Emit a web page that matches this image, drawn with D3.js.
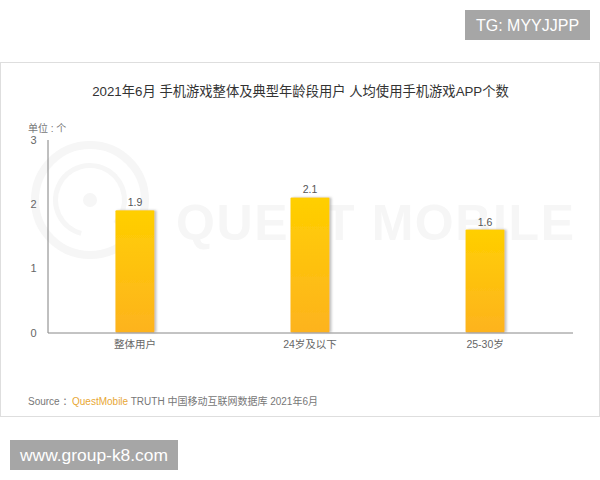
<!DOCTYPE html>
<html>
<head>
<meta charset="utf-8">
<script src="https://cdn.jsdelivr.net/npm/d3@7"></script>
<style>
  body { margin: 0; background: #fff; }
  text { font-family: "Liberation Sans", "Noto Sans CJK SC", sans-serif; }
</style>
</head>
<body>
<script>
const categories = ["整体用户", "24岁及以下", "25-30岁"];
const values = [1.9, 2.1, 1.6];
const yTicks = [0, 1, 2, 3];

const w = 600;
const h = 480;
const fontStack = "\"Liberation Sans\", \"Noto Sans CJK SC\", sans-serif";

const svg = d3.select("body").append("svg")
  .attr("width", w)
  .attr("height", h)
  .style("display", "block");

const defs = svg.append("defs");
const grad = defs.append("linearGradient")
  .attr("id", "barFill")
  .attr("x1", 0).attr("y1", 0).attr("x2", 0).attr("y2", 1);
grad.append("stop").attr("offset", "0%").attr("stop-color", "#ffcf00");
grad.append("stop").attr("offset", "100%").attr("stop-color", "#fdb31e");

const shadow = defs.append("filter").attr("id", "barShadow")
  .attr("x", "-20%").attr("y", "-5%").attr("width", "150%").attr("height", "110%");
shadow.append("feDropShadow")
  .attr("dx", 2).attr("dy", 0).attr("stdDeviation", 1.2)
  .attr("flood-color", "#999").attr("flood-opacity", 0.6);

// card
svg.append("rect")
  .attr("x", 0.5).attr("y", 62.5)
  .attr("width", 599).attr("height", 354)
  .attr("fill", "#fff")
  .attr("stroke", "#dedede");

// watermark
const mark = svg.append("g").attr("fill", "none").attr("stroke", "#f6f6f6");
mark.append("circle").attr("cx", 90).attr("cy", 200).attr("r", 55).attr("stroke-width", 8);
mark.append("path")
  .attr("d", d3.arc()({ innerRadius: 32, outerRadius: 37, startAngle: 3.4, endAngle: 8.6 }))
  .attr("transform", "translate(90,200)")
  .attr("fill", "#f6f6f6").attr("stroke", "none");
mark.append("circle").attr("cx", 90).attr("cy", 200).attr("r", 7).attr("fill", "#f6f6f6").attr("stroke", "none");
svg.append("text")
  .attr("x", 176).attr("y", 240)
  .attr("font-size", 50)
  .attr("font-weight", "bold")
  .attr("fill", "#f6f6f6")
  .attr("textLength", 398)
  .text("QUEST MOBILE");

// grey tag boxes
svg.append("rect").attr("x", 465).attr("y", 10).attr("width", 125).attr("height", 30).attr("fill", "#a6a6a6");
svg.append("text").attr("x", 527.5).attr("y", 31)
  .attr("text-anchor", "middle").attr("font-size", 16).attr("fill", "#fff")
  .text("TG: MYYJJPP");
svg.append("rect").attr("x", 10).attr("y", 440).attr("width", 168).attr("height", 30).attr("fill", "#a6a6a6");
svg.append("text").attr("x", 94).attr("y", 461)
  .attr("text-anchor", "middle").attr("font-size", 17.4).attr("fill", "#fff")
  .text("www.group-k8.com");

// title
svg.append("text")
  .attr("x", 300.5).attr("y", 96)
  .attr("text-anchor", "middle")
  .attr("font-size", 13.3)
  .attr("fill", "#333")
  .text("2021年6月 手机游戏整体及典型年龄段用户 人均使用手机游戏APP个数");

svg.append("text")
  .attr("x", 28).attr("y", 132)
  .attr("font-size", 10)
  .attr("fill", "#777")
  .text("单位 : 个");

const x = d3.scaleBand()
  .domain(categories)
  .range([47.5, 572.5])
  .paddingInner(0.777)
  .paddingOuter(0.388);

const y = d3.scaleLinear()
  .domain([0, 3])
  .range([332.5, 139.5]);

// bars
svg.selectAll("rect.bar")
  .data(values)
  .enter()
  .append("rect")
  .attr("class", "bar")
  .attr("x", (d, i) => x(categories[i]))
  .attr("y", d => y(d))
  .attr("width", x.bandwidth())
  .attr("height", d => y(0) - y(d))
  .attr("rx", 1)
  .attr("fill", "url(#barFill)")
  .attr("filter", "url(#barShadow)");

// value labels
svg.selectAll("text.val")
  .data(values)
  .enter()
  .append("text")
  .attr("class", "val")
  .attr("x", (d, i) => x(categories[i]) + x.bandwidth() / 2)
  .attr("y", d => y(d) - 4)
  .attr("text-anchor", "middle")
  .attr("font-size", 10.5)
  .attr("fill", "#555")
  .text(d => d);

// axes
const yAxis = svg.append("g")
  .attr("transform", "translate(47.5,0)")
  .call(d3.axisLeft(y).tickValues(yTicks).tickSize(0).tickPadding(11).tickFormat(d3.format("d")));
yAxis.select(".domain").attr("stroke", "#808080");
yAxis.selectAll("text").attr("font-size", 11).attr("fill", "#666").style("font-family", fontStack);

const xAxis = svg.append("g")
  .attr("transform", "translate(0,332.5)")
  .call(d3.axisBottom(x).tickSize(0).tickPadding(8));
xAxis.select(".domain").attr("stroke", "#888");
xAxis.selectAll("text").attr("font-size", 10.5).attr("fill", "#666").style("font-family", fontStack);

// source line
const src = svg.append("text")
  .attr("x", 28).attr("y", 405)
  .attr("font-size", 10)
  .attr("fill", "#777");
src.append("tspan").text("Source ：");
src.append("tspan").attr("x", 72).attr("fill", "#e8a735").text("QuestMobile");
src.append("tspan").text(" TRUTH 中国移动互联网数据库 2021年6月");
</script>
</body>
</html>
